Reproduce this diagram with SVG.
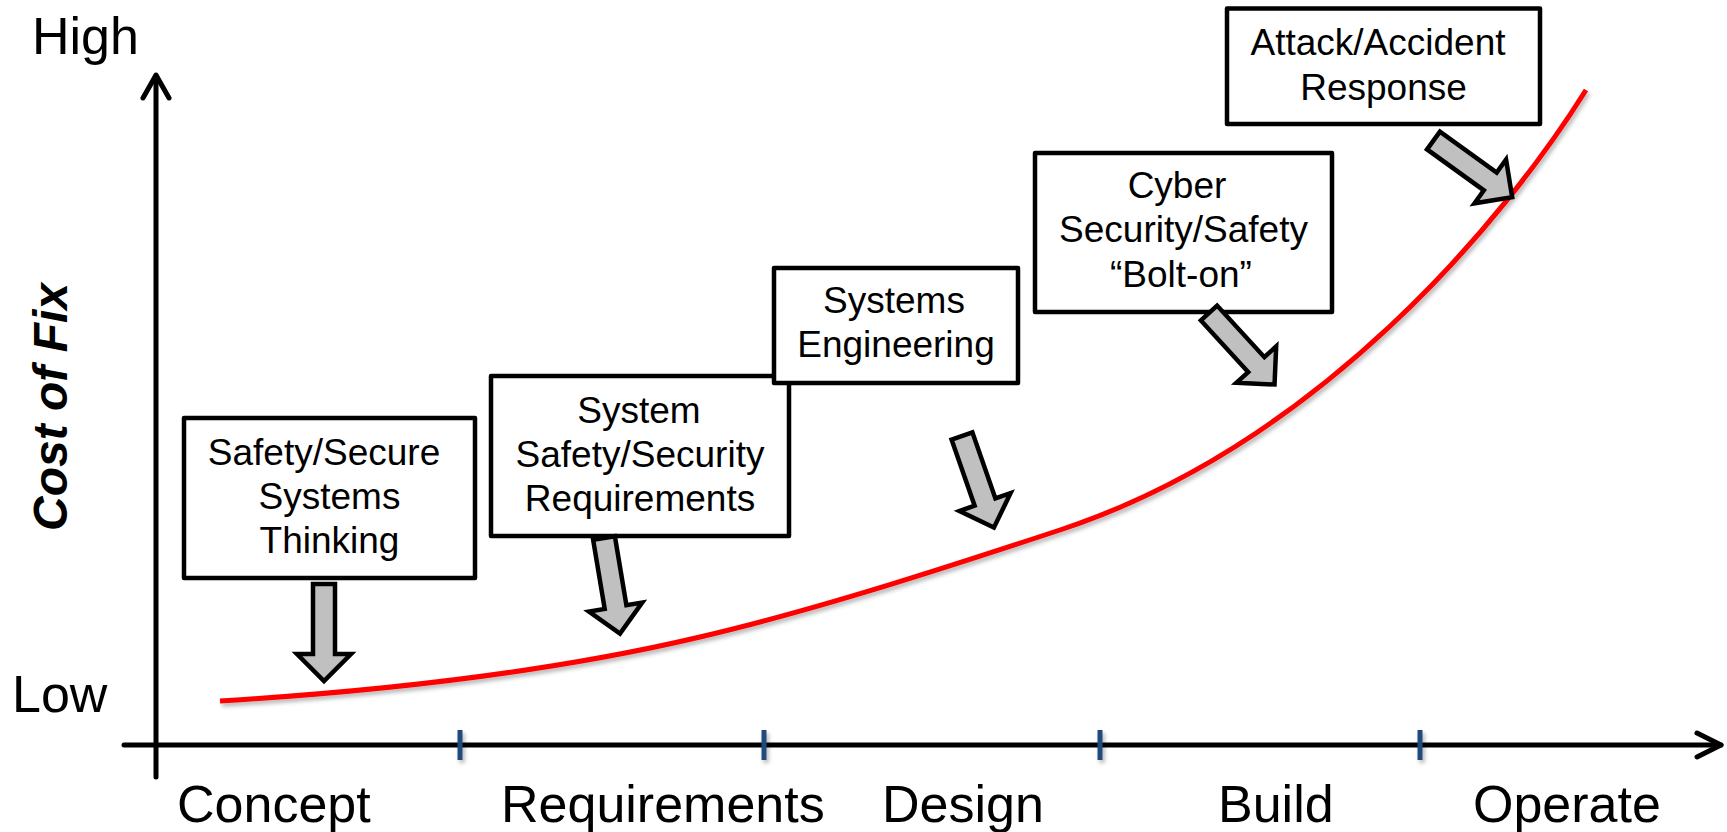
<svg xmlns="http://www.w3.org/2000/svg" width="1727" height="832" viewBox="0 0 1727 832">
  <defs>
    <style>
      .axis { stroke: #000; stroke-width: 5; fill: none; stroke-linecap: round; stroke-linejoin: round; }
      .tick { stroke: #244A7C; stroke-width: 5; }
      .curve { stroke: #FF0000; stroke-width: 5; fill: none; stroke-linecap: butt; }
      .box { fill: #FFFFFF; stroke: #000; stroke-width: 4.5; stroke-linejoin: round; }
      .lbl { font-family: "Liberation Sans", Arial, sans-serif; font-size: 37px; fill: #000; text-anchor: middle; }
      .axlbl { font-family: "Liberation Sans", Arial, sans-serif; font-size: 52px; fill: #000; }
      .title { font-family: "Liberation Sans", Arial, sans-serif; font-size: 48px; font-weight: bold; font-style: italic; fill: #000; text-anchor: middle; }
      .blk { fill: #C0C0C0; stroke: #000; stroke-width: 4.5; stroke-linejoin: miter; }
    </style>
    <filter id="shadow" x="-5%" y="-20%" width="110%" height="140%">
      <feDropShadow dx="2" dy="3" stdDeviation="2" flood-color="#000" flood-opacity="0.3"/>
    </filter>
    <!-- block arrow pointing down, tail centre at origin -->
    <polygon id="blkArrow" points="-11,0 11,0 11,70 27,70 0,97 -27,70 -11,70"/>
  </defs>

  <rect width="1727" height="832" fill="#FFFFFF"/>

  <!-- axis captions -->
  <text class="axlbl" x="32" y="54">High</text>
  <text class="axlbl" x="12" y="712">Low</text>
  <text class="title" transform="translate(67,407) rotate(-90)">Cost of Fix</text>

  <!-- axes -->
  <g id="axes">
    <line class="axis" x1="156" y1="777" x2="156" y2="76"/>
    <polyline class="axis" points="143,98 156,75 169,98"/>
    <line class="axis" x1="124" y1="745" x2="1721" y2="745"/>
    <polyline class="axis" points="1697,733 1721,745 1697,757"/>
  </g>

  <!-- phase ticks -->
  <g id="ticks" filter="url(#shadow)">
    <line class="tick" x1="460" y1="730" x2="460" y2="760"/>
    <line class="tick" x1="764" y1="730" x2="764" y2="760"/>
    <line class="tick" x1="1100" y1="730" x2="1100" y2="760"/>
    <line class="tick" x1="1420" y1="730" x2="1420" y2="760"/>
  </g>

  <!-- phase labels -->
  <text class="axlbl" x="177" y="822">Concept</text>
  <text class="axlbl" x="501" y="822">Requirements</text>
  <text class="axlbl" x="882" y="822">Design</text>
  <text class="axlbl" x="1218" y="822">Build</text>
  <text class="axlbl" x="1473" y="822">Operate</text>

  <!-- cost curve -->
  <path id="cost-curve" class="curve" filter="url(#shadow)"
        d="M220,701 C400,690 560,670 700,637 C820,609 960,563 1060,530 C1320,444 1506,218 1586,90"/>

  <!-- activity boxes -->
  <g id="node-thinking">
    <rect class="box" x="184" y="418" width="291" height="160"/>
    <text class="lbl" x="324" y="465">Safety/Secure</text>
    <text class="lbl" x="329.5" y="509">Systems</text>
    <text class="lbl" x="329.5" y="553">Thinking</text>
  </g>
  <g id="node-requirements">
    <rect class="box" x="491" y="376" width="298" height="160"/>
    <text class="lbl" x="639" y="423">System</text>
    <text class="lbl" x="640" y="467">Safety/Security</text>
    <text class="lbl" x="640" y="511">Requirements</text>
  </g>
  <g id="node-engineering">
    <rect class="box" x="774" y="268" width="244" height="115"/>
    <text class="lbl" x="894" y="313">Systems</text>
    <text class="lbl" x="896" y="357">Engineering</text>
  </g>
  <g id="node-boltson">
    <rect class="box" x="1035" y="153" width="297" height="159"/>
    <text class="lbl" x="1177" y="198">Cyber</text>
    <text class="lbl" x="1183.5" y="242">Security/Safety</text>
    <text class="lbl" x="1181" y="287">“Bolt-on”</text>
  </g>
  <g id="node-response">
    <rect class="box" x="1227" y="8.5" width="313" height="115.5"/>
    <text class="lbl" x="1378" y="55">Attack/Accident</text>
    <text class="lbl" x="1383.5" y="100">Response</text>
  </g>

  <!-- block arrows from each box to the curve -->
  <g id="connectors">
    <use href="#blkArrow" class="blk" transform="translate(324,584)"/>
    <use href="#blkArrow" class="blk" transform="translate(604,538) rotate(-9.5)"/>
    <use href="#blkArrow" class="blk" transform="translate(962,436) rotate(-19.2)"/>
    <use href="#blkArrow" class="blk" transform="translate(1209,313) rotate(-42.5)"/>
    <use href="#blkArrow" class="blk" transform="translate(1433.5,140.5) rotate(-54.2)"/>
  </g>
</svg>
